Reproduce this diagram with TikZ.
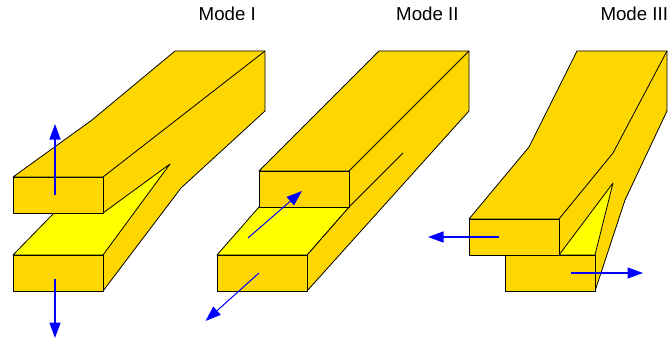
\documentclass[tikz,border=0pt]{standalone}
\usepackage{fontspec}
\setmainfont{Liberation Sans}
\usetikzlibrary{arrows.meta}
\definecolor{gold}{RGB}{255,215,0}
\definecolor{crackyellow}{RGB}{255,255,0}
\definecolor{loadblue}{RGB}{0,0,255}
\tikzset{
  beam/.style={draw=black, fill=gold, line width=0.8pt, line join=round},
  crack/.style={draw=black, fill=crackyellow, line width=0.8pt, line join=round},
  edge/.style={draw=black, line width=0.8pt},
  load/.style={color=loadblue, line width=#1, -{Triangle[length=15.5pt, width=11pt]}},
  load/.default=1.4pt,
  modelabel/.style={anchor=base west, inner sep=0pt, font=\fontsize{18.7}{20}\selectfont}
}
\begin{document}
\begin{tikzpicture}[x=1pt, y=-1pt]
  \useasboundingbox (0,0) rectangle (672,345);

  \node[modelabel] (labeli) at (198.5,20.7) {Mode I};
  \node[modelabel] (labelii) at (396,20.7) {Mode II};
  \node[modelabel] (labeliii) at (600.3,20.7) {Mode III};

  % first beam
  \coordinate (a1) at (13,177);
  \coordinate (a2) at (103,177);
  \coordinate (a3) at (103,213);
  \coordinate (a5) at (13,255);
  \coordinate (a6) at (103,255);
  \coordinate (a7) at (103,291);
  \coordinate (atip) at (170,164);
  \coordinate (aback) at (265,51);

  \draw[beam] (a1) -- (92,120) -- (175,51) -- (aback) -- (265,111) -- (181,188) -- (a7) -- (a6) -- (a3) -- (a2) -- cycle;
  \draw[edge] (a2) -- (aback);
  \draw[crack] (a3) -- (atip) -- (a6) -- (a5) -- (54,213) -- cycle;
  \draw[beam] (a1) rectangle (a3);
  \draw[beam] (a5) rectangle (a7);

  \coordinate (aup0) at (55,195);
  \coordinate (aup1) at (55,124);
  \coordinate (adown0) at (55,279);
  \coordinate (adown1) at (55,338);
  \draw[load] (aup0) -- (aup1);
  \draw[load] (adown0) -- (adown1);

  % second beam
  \coordinate (b1) at (259,171);
  \coordinate (b2) at (349,171);
  \coordinate (b3) at (349,207);
  \coordinate (b4) at (259,207);
  \coordinate (b5) at (217,255);
  \coordinate (b6) at (307,255);
  \coordinate (b7) at (307,291);
  \coordinate (bback) at (469,51);

  \draw[beam] (b1) -- (379,51) -- (bback) -- (469,111) -- (b7) -- (b6) -- (b3) -- (b2) -- cycle;
  \draw[edge] (b2) -- (bback);
  \draw[edge] (b3) -- (403,153);
  \draw[crack] (b4) -- (b3) -- (b6) -- (b5) -- cycle;
  \draw[beam] (b1) rectangle (b3);
  \draw[beam] (b5) rectangle (b7);

  \coordinate (bin0) at (248,238);
  \coordinate (bin1) at (302,191);
  \coordinate (bout0) at (259,273);
  \coordinate (bout1) at (205.5,321);
  \draw[load=1pt] (bin0) -- (bin1);
  \draw[load=1pt] (bout0) -- (bout1);

  % third beam
  \coordinate (c1) at (469,219);
  \coordinate (c2) at (559,219);
  \coordinate (c3) at (559,255);
  \coordinate (c5) at (505,255);
  \coordinate (c6) at (595,255);
  \coordinate (c7) at (595,291);
  \coordinate (ctip) at (613,183);
  \coordinate (cback) at (667,51);

  \draw[beam] (c1) -- (529,147) -- (577,51) -- (cback) -- (667,111) -- (625,200) -- (c7) -- (c6) -- (c3) -- (c2) -- cycle;
  \draw[edge] (c2) -- (613,153) -- (cback);
  \draw[crack] (c3) -- (ctip) -- (c6) -- cycle;
  \draw[beam] (c5) rectangle (c7);
  \draw[beam] (c1) rectangle (c3);

  \coordinate (cleft0) at (499,237);
  \coordinate (cleft1) at (428,237);
  \coordinate (cright0) at (571,273);
  \coordinate (cright1) at (643,273);
  \draw[load] (cleft0) -- (cleft1);
  \draw[load] (cright0) -- (cright1);
\end{tikzpicture}
\end{document}
